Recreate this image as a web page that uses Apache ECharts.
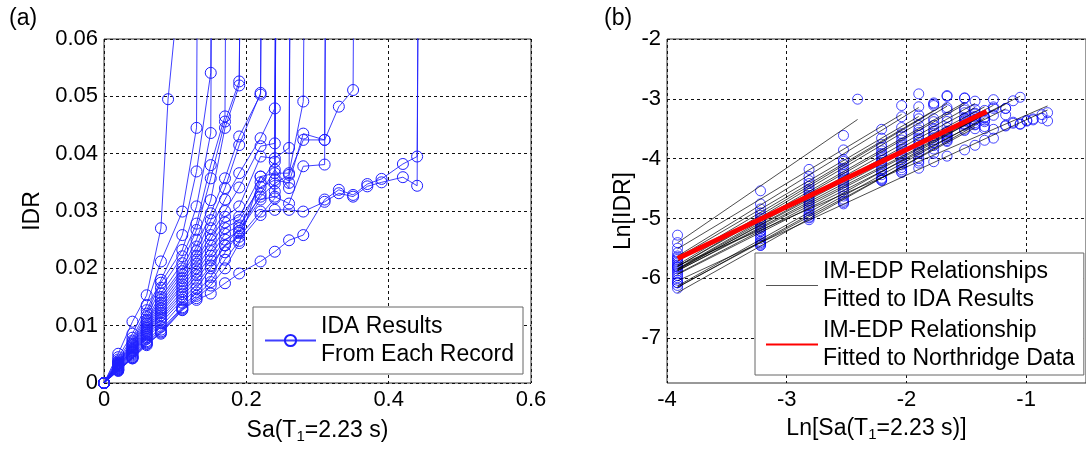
<!DOCTYPE html>
<html><head><meta charset="utf-8">
<script src="https://cdn.jsdelivr.net/npm/echarts@6/dist/echarts.min.js"></script>
<style>html,body{margin:0;padding:0;background:#fff}#c{width:1086px;height:450px}</style>
</head><body><div id="c"></div>
<script>
// Sa(T1) intensity levels used in the IDA (g)
const SA_LEVELS = [0, 0.02, 0.04, 0.06, 0.08, 0.09, 0.11, 0.13, 0.15, 0.17, 0.19, 0.22, 0.24, 0.26, 0.28, 0.31, 0.33, 0.35, 0.37, 0.39, 0.42, 0.44, 0.46];
// IDR per record, aligned with SA_LEVELS (null = level not run); last value = collapse (off scale)
const IDA_R01 = [0, .0051, .0107, .0153, .0270, .0495, .075];
const IDA_R02 = [0, .0045, .0086, .0136, .0212, null, .0299, .0445, .5];
const IDA_R03 = [0, .0041, .0079, .0127, .0180, null, .0258, .0369, .0541, .5];
const IDA_R04 = [0, .0038, .0074, .0121, .0175, null, .0232, .0308, .0436, .5];
const IDA_R05 = [0, .0036, .0071, .0115, .0166, null, .0221, .0278, .0380, .0465, .5];
const IDA_R06 = [0, .0035, .0068, .0110, .0156, null, .0209, .0267, .0357, .0456, .0526, .5];
const IDA_R07 = [0, .0034, .0066, .0106, .0150, null, .0200, .0250, .0319, .0445, .0519, .5];
const IDA_R08 = [0, .0033, .0064, .0103, .0145, null, .0195, .0238, .0296, .0357, .0430, .0503, .5];
const IDA_R09 = [0, .0032, .0062, .0099, .0140, null, .0189, .0230, .0284, .0340, .0415, .0506, .5];
const IDA_R10 = [0, .0031, .0060, .0096, .0135, null, .0183, .0222, .0270, .0320, .0366, .0427, .0479, .5];
const IDA_R11 = [0, .0030, .0058, .0093, .0130, null, .0178, .0215, .0258, .0300, .0341, .0413, .0418, .5];
const IDA_R12 = [0, .0030, .0057, .0090, .0126, null, .0172, .0208, .0250, .0290, .0308, .0395, .0392, .0410, .5];
const IDA_R13 = [0, .0029, .0055, .0088, .0122, null, .0167, .0200, .0240, .0280, .0290, .0360, .0366, .0366, .0491, .5];
const IDA_R14 = [0, .0028, .0054, .0085, .0118, null, .0160, .0194, .0230, .0270, .0284, .0342, .0354, .0349, .0435, .0424, .0482, .0511, .5];
const IDA_R15 = [0, .0027, .0052, .0083, .0114, null, .0155, .0188, .0222, .0260, .0275, .0325, .0348, .0363, .0424, .0424, .5];
const IDA_R16 = [0, .0026, .0050, .0080, .0110, null, .0150, .0180, .0214, .0250, .0265, .0320, .0325, .0313, .0378, .0381, .5];
const IDA_R17 = [0, .0025, .0048, .0077, .0105, null, .0145, .0172, .0205, .0240, .0255, .0299, .0302, .0302, .0299, .0316, .0331, .0325, .0343, .0350, .0359, .0344, .5];
const IDA_R18 = [0, .0022, .0043, .0069, .0086, null, .0127, .0145, .0156, .0174, .0191, .0212, .0229, .0249, .0258, .0320, .0337, .0328, .0347, .0356, .0382, .0395, .5];
const IDA_R19 = [0, .0024, .0046, .0073, .0098, null, .0140, .0165, .0200, .0240, .0270, .0350, .0386, .5];
const IDA_R20 = [0, .0023, .0045, .0071, .0093, null, .0132, .0158, .0185, .0228, .0262, .0330, .0372, .0340, .5];
const IDA_R21 = [0, .0023, .0044, .0068, .0090, null, .0130, .0152, .0176, .0215, .0248, .0293, .0322, .5];
const IDA_R22 = [0, .0021, .0043, .0066, .0088, null, .0128, .0148, .0170, .0200, .0244, .0360, .0334, .5];
const IDA_RECORDS = [IDA_R01, IDA_R02, IDA_R03, IDA_R04, IDA_R05, IDA_R06, IDA_R07, IDA_R08, IDA_R09, IDA_R10, IDA_R11,
  IDA_R12, IDA_R13, IDA_R14, IDA_R15, IDA_R16, IDA_R17, IDA_R18, IDA_R19, IDA_R20, IDA_R21, IDA_R22];
// points above this IDR are collapse points, not used in the log-log fit
const COLLAPSE_IDR = 0.07;
// IM-EDP relationship fitted to Northridge data: endpoints in Ln space
const NORTHRIDGE_LN_SA = [-3.91, -1.33];
const NORTHRIDGE_LN_IDR = [-5.67, -3.21];
// axes [min, max, interval]
const AX_A_X = [0, 0.6, 0.2];
const AX_A_Y = [0, 0.06, 0.01];
const AX_B_X = [-4, -0.5, 1];
const AX_B_Y = [-7.75, -2];
const AX_B_Y_TICKS = [-7, -6, -5, -4, -3, -2];

const FONT = 'Liberation Sans, Arial, sans-serif';
const BLUE = '#1f1fff';
const NAME_IDA = 'IDA Results\nFrom Each Record';
const NAME_FIT = 'IM-EDP Relationships\nFitted to IDA Results';
const NAME_NR = 'IM-EDP Relationship\nFitted to Northridge Data';

function recordPairs(rec) {
  const out = [];
  rec.forEach((v, i) => { if (v !== null && v !== undefined) out.push([SA_LEVELS[i], v]); });
  return out;
}
function lsFit(pts) {
  const n = pts.length;
  let mx = 0, my = 0;
  pts.forEach(p => { mx += p[0]; my += p[1]; });
  mx /= n; my /= n;
  let sxy = 0, sxx = 0;
  pts.forEach(p => { sxy += (p[0] - mx) * (p[1] - my); sxx += (p[0] - mx) * (p[0] - mx); });
  const b = sxy / sxx, a = my - b * mx;
  const xs = pts.map(p => p[0]);
  const x0 = Math.min(...xs), x1 = Math.max(...xs);
  return [[x0, a + b * x0], [x1, a + b * x1]];
}

const series = [];
const lnPoints = [];
const fits = [];
IDA_RECORDS.forEach((rec, k) => {
  const pairs = recordPairs(rec);
  series.push({
    name: NAME_IDA, type: 'line', xAxisIndex: 0, yAxisIndex: 0, data: pairs,
    symbol: 'circle', symbolSize: 11, showSymbol: true, clip: true,
    lineStyle: { color: BLUE, width: 1, opacity: 0.85 },
    itemStyle: { color: 'rgba(0,0,0,0)', borderColor: BLUE, borderWidth: 1 },
    silent: true, animation: false, z: 2
  });
  const ln = pairs.filter(p => p[0] > 0 && p[1] < COLLAPSE_IDR).map(p => [Math.log(p[0]), Math.log(p[1])]);
  ln.forEach(p => lnPoints.push(p));
  fits.push(lsFit(ln));
});
series.push({
  type: 'scatter', xAxisIndex: 1, yAxisIndex: 1, data: lnPoints, symbol: 'circle', symbolSize: 10,
  itemStyle: { color: 'rgba(0,0,0,0)', borderColor: '#0000ff', borderWidth: 0.9 },
  silent: true, animation: false, z: 2
});
fits.forEach(f => {
  series.push({
    name: NAME_FIT, type: 'line', xAxisIndex: 1, yAxisIndex: 1, data: f, symbol: 'none',
    lineStyle: { color: '#000', width: 0.7 }, itemStyle: { color: '#000' },
    silent: true, animation: false, z: 3
  });
});
series.push({
  name: NAME_NR, type: 'line', xAxisIndex: 1, yAxisIndex: 1,
  data: NORTHRIDGE_LN_SA.map((x, i) => [x, NORTHRIDGE_LN_IDR[i]]), symbol: 'none',
  lineStyle: { color: '#ff0000', width: 5, cap: 'butt' }, itemStyle: { color: '#ff0000' },
  silent: true, animation: false, z: 4
});

const tickLabel = { color: '#000', fontSize: 22, fontFamily: FONT, margin: 6 };
const split = { show: true, lineStyle: { color: '#111', type: [3, 3], width: 1 } };
const rich = {
  n: { fontSize: 23, fontFamily: FONT, color: '#000' },
  s: { fontSize: 15, fontFamily: FONT, color: '#000', padding: [12, 0, 0, 0] }
};
function axis(range, grid, extra) {
  return Object.assign({
    type: 'value', gridIndex: grid, min: range[0], max: range[1], interval: range[2],
    axisLine: { show: false }, axisTick: { show: false },
    axisLabel: Object.assign({}, tickLabel), splitLine: split
  }, extra);
}

const legendText = { color: '#000', fontSize: 23, fontFamily: FONT, lineHeight: 27.5 };
const option = {
  backgroundColor: '#fff',
  animation: false,
  grid: [
    { left: 104, top: 39, width: 427, height: 344, show: true, borderColor: '#333', borderWidth: 1, backgroundColor: 'rgba(0,0,0,0)' },
    { left: 667, top: 39, width: 427, height: 344, show: true, borderColor: '#333', borderWidth: 1, backgroundColor: 'rgba(0,0,0,0)' }
  ],
  xAxis: [
    axis(AX_A_X, 0, { name: '{n|Sa(T}{s|1}{n|=2.23 s)}', nameLocation: 'middle', nameGap: 34, nameTextStyle: { rich } }),
    axis(AX_B_X, 1, { name: '{n|Ln[Sa(T}{s|1}{n|=2.23 s)]}', nameLocation: 'middle', nameGap: 32, nameTextStyle: { rich },
      axisLabel: Object.assign({}, tickLabel, { showMaxLabel: false }) })
  ],
  yAxis: [
    axis(AX_A_Y, 0, { name: 'IDR', nameLocation: 'middle', nameGap: 60, nameTextStyle: { fontSize: 23, fontFamily: FONT, color: '#000' } }),
    {
      type: 'value', gridIndex: 1, min: AX_B_Y[0], max: AX_B_Y[1],
      axisLine: { show: false },
      axisTick: { show: false, customValues: AX_B_Y_TICKS },
      axisLabel: Object.assign({}, tickLabel, { customValues: AX_B_Y_TICKS }),
      splitLine: split,
      name: 'Ln[IDR]', nameLocation: 'middle', nameGap: 32,
      nameTextStyle: { fontSize: 23, fontFamily: FONT, color: '#000' }
    }
  ],
  legend: [
    { data: [NAME_IDA], left: 253, top: 307, orient: 'vertical', selectedMode: false,
      itemWidth: 51, itemHeight: 14, itemGap: 4, padding: [6, 9, 6, 11],
      borderColor: '#666', borderWidth: 1, backgroundColor: '#fff', textStyle: legendText },
    { data: [
        { name: NAME_FIT, itemStyle: { opacity: 0 }, lineStyle: { color: '#555', width: 1 } },
        { name: NAME_NR, itemStyle: { opacity: 0 } }
      ],
      left: 755, top: 253, orient: 'vertical', selectedMode: false,
      itemWidth: 52, itemHeight: 14, itemGap: 4, padding: [5, 9, 3, 10],
      borderColor: '#666', borderWidth: 1, backgroundColor: '#fff', textStyle: legendText }
  ],
  graphic: [
    { type: 'text', left: 9, top: 7, style: { text: '(a)', fontSize: 23, fontFamily: FONT, fill: '#000' } },
    { type: 'text', left: 604, top: 7, style: { text: '(b)', fontSize: 23, fontFamily: FONT, fill: '#000' } }
  ],
  series
};
const chart = echarts.init(document.getElementById('c'), null, { renderer: 'canvas' });
chart.setOption(option);
</script>
</body></html>
